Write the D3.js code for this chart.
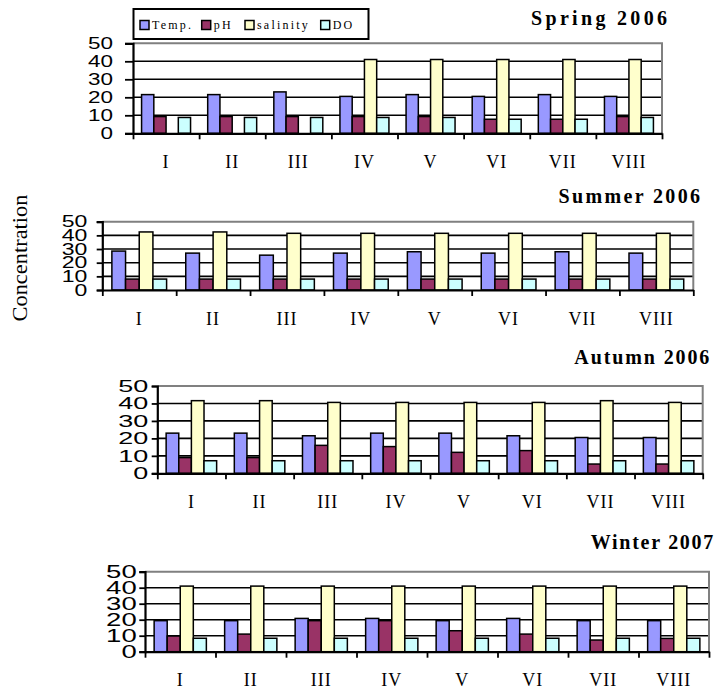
<!doctype html>
<html>
<head>
<title>Seasonal water quality</title>
<script src="https://d3js.org/d3.v7.min.js"></script>
<style>
  body { margin: 0; background: #fff; }
  svg { display: block; }
  .ylab text { font-family: "Liberation Sans", Arial, sans-serif; fill: #000; }
  .cat text { font-family: "Liberation Serif", "Times New Roman", serif; font-size: 18px; fill: #000; }
  .title { font-family: "Liberation Serif", "Times New Roman", serif; font-weight: bold; font-size: 20px; }
  .legend text { font-family: "Liberation Serif", "Times New Roman", serif; font-size: 12px; letter-spacing: 2.2px; }
</style>
</head>
<body>
<script>
// ---- data ----
var categories = ["I", "II", "III", "IV", "V", "VI", "VII", "VIII"];
var seriesNames = ["Temp.", "pH", "salinity", "DO"];
var seriesColors = ["#9999ff", "#993366", "#ffffcc", "#ccffff"];
var yTicks = [0, 10, 20, 30, 40, 50];
var seasonTitles = ["Spring 2006", "Summer 2006", "Autumn 2006", "Winter 2007"];

var springTemp = [21.5, 21.5, 23, 20.5, 21.5, 20.5, 21.5, 20.5];
var springPH   = [9.3, 9.3, 9.3, 9.3, 9.3, 7.8, 7.8, 9.3];
var springSal  = [null, null, null, 41, 41, 41, 41, 41];
var springDO   = [8.8, 8.8, 8.8, 8.8, 8.8, 7.8, 7.8, 8.8];

var summerTemp = [28.5, 27, 25.5, 27, 28, 27, 28, 27];
var summerPH   = [8, 8, 8, 8, 8, 8, 8, 8];
var summerSal  = [42.5, 42.5, 41.5, 41.5, 41.5, 41.5, 41.5, 41.5];
var summerDO   = [8, 8, 8, 8, 8, 8, 8, 8];

var autumnTemp = [23, 23, 21.5, 23, 23, 21.5, 20.5, 20.5];
var autumnPH   = [9, 9, 16, 15.3, 12, 13, 5.3, 5.3];
var autumnSal  = [41.6, 41.6, 40.6, 40.6, 40.6, 40.6, 41.6, 40.6];
var autumnDO   = [7.2, 7.2, 7.2, 7.2, 7.2, 7.2, 7.2, 7.2];

var winterTemp = [19.4, 19.4, 20.8, 20.8, 19.4, 20.8, 19.4, 19.4];
var winterPH   = [9.8, 11, 19.4, 19.4, 13.1, 11, 7.3, 8.3];
var winterSal  = [41, 41, 41, 41, 41, 41, 41, 41];
var winterDO   = [8.4, 8.4, 8.4, 8.4, 8.4, 8.4, 8.4, 8.4];

var seasonData = [
  [springTemp, springPH, springSal, springDO],
  [summerTemp, summerPH, summerSal, summerDO],
  [autumnTemp, autumnPH, autumnSal, autumnDO],
  [winterTemp, winterPH, winterSal, winterDO]
];

// ---- layout of the four panels ----
var panels = [
  {x0: 133, x1: 662, zero: 133.3, top: 43.3, tick: 8, gap: 20, fs: 17, digit: 12.5, tRight: 667, tBase: 25, tLen: 136},
  {x0: 102.3, x1: 693.3, zero: 290, top: 221.7, tick: 5.6, gap: 15, fs: 16.5, digit: 12.8, tRight: 700, tBase: 202.7, tLen: 141.5},
  {x0: 157.3, x1: 702.7, zero: 473.3, top: 386, tick: 5.6, gap: 9, fs: 16.5, digit: 15, tRight: 709.3, tBase: 364, tLen: 135},
  {x0: 145, x1: 709, zero: 651.7, top: 571.7, tick: 5.7, gap: 8.3, fs: 18.5, digit: 15.3, tRight: 713.3, tBase: 549.3, tLen: 122.6}
];

var svg = d3.select("body").append("svg").attr("width", 717).attr("height", 689);

panels.forEach(function(p, k) {
  var g = svg.append("g");
  var y = d3.scaleLinear().domain([0, 50]).range([p.zero, p.top]);
  var x = d3.scaleBand().domain(categories).range([p.x0, p.x1]).padding(0);
  var xs = d3.scaleBand().domain(seriesNames).range([0, x.bandwidth()]).paddingInner(0).paddingOuter(0.7);
  var xLin = d3.scaleLinear().domain([0, categories.length]).range([p.x0, p.x1]);

  // gridlines 10..40
  g.append("g").selectAll("line").data([10, 20, 30, 40]).enter().append("line")
    .attr("x1", p.x0).attr("x2", p.x1)
    .attr("y1", function(d) { return y(d); }).attr("y2", function(d) { return y(d); })
    .attr("stroke", "#000").attr("stroke-width", 1.6);

  // plot area border (top/right gray)
  g.append("path")
    .attr("d", "M" + p.x0 + "," + y(50) + "H" + p.x1 + "V" + p.zero)
    .attr("fill", "none").attr("stroke", "#808080").attr("stroke-width", 2);

  // bars
  var rows = [];
  categories.forEach(function(c, i) {
    seriesNames.forEach(function(s, j) {
      var v = seasonData[k][j][i];
      if (v != null) rows.push({cat: c, ser: s, j: j, v: v});
    });
  });
  g.append("g").selectAll("rect").data(rows).enter().append("rect")
    .attr("x", function(d) { return x(d.cat) + xs(d.ser); })
    .attr("y", function(d) { return y(d.v); })
    .attr("width", xs.bandwidth())
    .attr("height", function(d) { return y(0) - y(d.v); })
    .attr("fill", function(d) { return seriesColors[d.j]; })
    .attr("stroke", "#000").attr("stroke-width", 1.5);

  // y axis
  var ya = g.append("g").attr("class", "ylab").attr("transform", "translate(" + p.x0 + ",0)")
    .call(d3.axisLeft(y).tickValues(yTicks).tickSize(p.tick).tickPadding(p.gap - p.tick));
  ya.select(".domain").attr("stroke", "#000").attr("stroke-width", 2.2);
  ya.selectAll(".tick line").attr("stroke", "#000").attr("stroke-width", 1.8);
  ya.selectAll(".tick text")
    .style("font-size", p.fs + "px")
    .attr("textLength", function(d) { return String(d).length * p.digit; })
    .attr("lengthAdjust", "spacingAndGlyphs");

  // x axis with ticks on category boundaries
  var xa = g.append("g").attr("transform", "translate(0," + p.zero + ")")
    .call(d3.axisBottom(xLin).tickValues(d3.range(categories.length + 1)).tickSize(6).tickSizeOuter(0).tickFormat(""));
  xa.select(".domain").attr("stroke", "#000").attr("stroke-width", 2.2);
  xa.selectAll(".tick line").attr("stroke", "#000").attr("stroke-width", 1.8);

  // category labels
  var ca = g.append("g").attr("class", "cat").attr("transform", "translate(0," + p.zero + ")")
    .call(d3.axisBottom(x).tickSize(0).tickPadding(22));
  ca.select(".domain").remove();
  ca.selectAll(".tick text").style("letter-spacing", "1px");

  // title
  g.append("text").attr("class", "title")
    .attr("x", p.tRight).attr("y", p.tBase)
    .attr("text-anchor", "end")
    .attr("textLength", p.tLen).attr("lengthAdjust", "spacing")
    .text(seasonTitles[k]);
});

// legend (spring panel)
var lg = svg.append("g").attr("class", "legend");
lg.append("rect").attr("x", 133.5).attr("y", 9).attr("width", 235).attr("height", 30)
  .attr("fill", "#fff").attr("stroke", "#000").attr("stroke-width", 2);
var legX = [140, 201.7, 245, 320.7];
seriesNames.forEach(function(s, j) {
  lg.append("rect").attr("x", legX[j]).attr("y", 20.5).attr("width", 9).attr("height", 9)
    .attr("fill", seriesColors[j]).attr("stroke", "#000").attr("stroke-width", 1.5);
  lg.append("text").attr("x", legX[j] + 12).attr("y", 29)
    .text(s);
});

// shared y label
svg.append("text")
  .attr("transform", "translate(27,258) rotate(-90)")
  .attr("text-anchor", "middle")
  .attr("textLength", 127).attr("lengthAdjust", "spacingAndGlyphs")
  .style("font-family", "'Liberation Serif', 'Times New Roman', serif")
  .style("font-size", "21px")
  .text("Concentration");
</script>
</body>
</html>
